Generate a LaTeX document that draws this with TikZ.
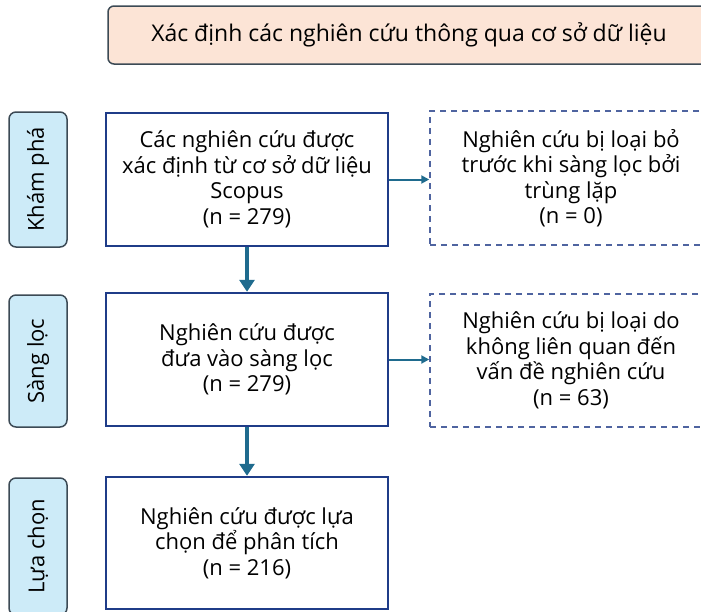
\documentclass[tikz,border=0pt]{standalone}
\usepackage{fontspec}
\setmainfont{Open Sans}
\usetikzlibrary{arrows.meta,positioning}
\definecolor{peach}{HTML}{FCE4D6}
\definecolor{skyfill}{HTML}{CDEBF8}
\definecolor{slate}{HTML}{3C4A55}
\definecolor{navy}{HTML}{1F3C88}
\definecolor{teal}{HTML}{1F6B8E}
\definecolor{dashblue}{HTML}{4F64A0}
\tikzset{
    %Define standard arrow tip
    >={Triangle[width=8pt,length=8pt]},
    %Define style for the header box
    header/.style={
           rectangle,
           rounded corners=6pt,
           draw=slate, line width=1.5pt,
           fill=peach,
           minimum width=602pt,
           minimum height=58pt,
           font=\fontsize{23}{26}\selectfont,
           text centered},
    %Define style for the stage labels
    stage/.style={
           rectangle,
           rounded corners=7pt,
           draw=slate, line width=1.5pt,
           fill=skyfill,
           rotate=90,
           minimum height=58pt,
           font=\fontsize{22}{25}\selectfont,
           text centered},
    mainbox/.style={
           rectangle,
           draw=navy, line width=2.5pt,
           fill=white,
           minimum width=282pt,
           minimum height=133pt,
           align=center,
           font=\fontsize{22}{25.5}\selectfont},
    excluded/.style={
           rectangle,
           draw=dashblue, line width=1.5pt,
           dash pattern=on 6pt off 5pt,
           minimum width=282pt,
           minimum height=134pt,
           align=center,
           font=\fontsize{22}{25.5}\selectfont},
    % Define arrow styles
    flow/.style={
           -{Triangle[width=15pt,length=12pt]},
           draw=teal, line width=4pt},
    side/.style={
           ->,
           draw=teal, line width=2pt}
}
\begin{document}
\begin{tikzpicture}[x=1pt,y=-1pt]
\clip (0,0) rectangle (701,611);
\useasboundingbox (0,0) rectangle (701,611);
\node[header](db) at (409,35){Xác định các nghiên cứu thông qua cơ sở dữ liệu};
\node[stage, minimum width=135pt](kp) at (38,179.5){Khám phá};
\node[stage, minimum width=132pt](sl) at (38,361){Sàng lọc};
\node[stage, minimum width=137pt](lc) at (38,546.5){Lựa chọn};
\node[mainbox](id) at (247,179.5){Các nghiên cứu được\\xác định từ cơ sở dữ liệu\\Scopus\\(n = 279)};
\node[mainbox](sc) at (247,359.5){Nghiên cứu được\\đưa vào sàng lọc\\(n = 279)};
\node[mainbox, minimum height=132pt](in) at (247,543){Nghiên cứu được lựa\\chọn để phân tích\\(n = 216)};
\node[excluded](dup) at (571,178){Nghiên cứu bị loại bỏ\\trước khi sàng lọc bởi\\trùng lặp\\(n = 0)};
\node[excluded, minimum height=133pt](irr) at (571,360.5){Nghiên cứu bị loại do\\không liên quan đến\\vấn đề nghiên cứu\\(n = 63)};
\draw[flow] (id) -- (sc);
\draw[flow] (sc) -- (in);
\draw[side] (id.east) -- (id.east -| dup.west);
\draw[side] (sc.east) -- (sc.east -| irr.west);
\end{tikzpicture}
\end{document}
